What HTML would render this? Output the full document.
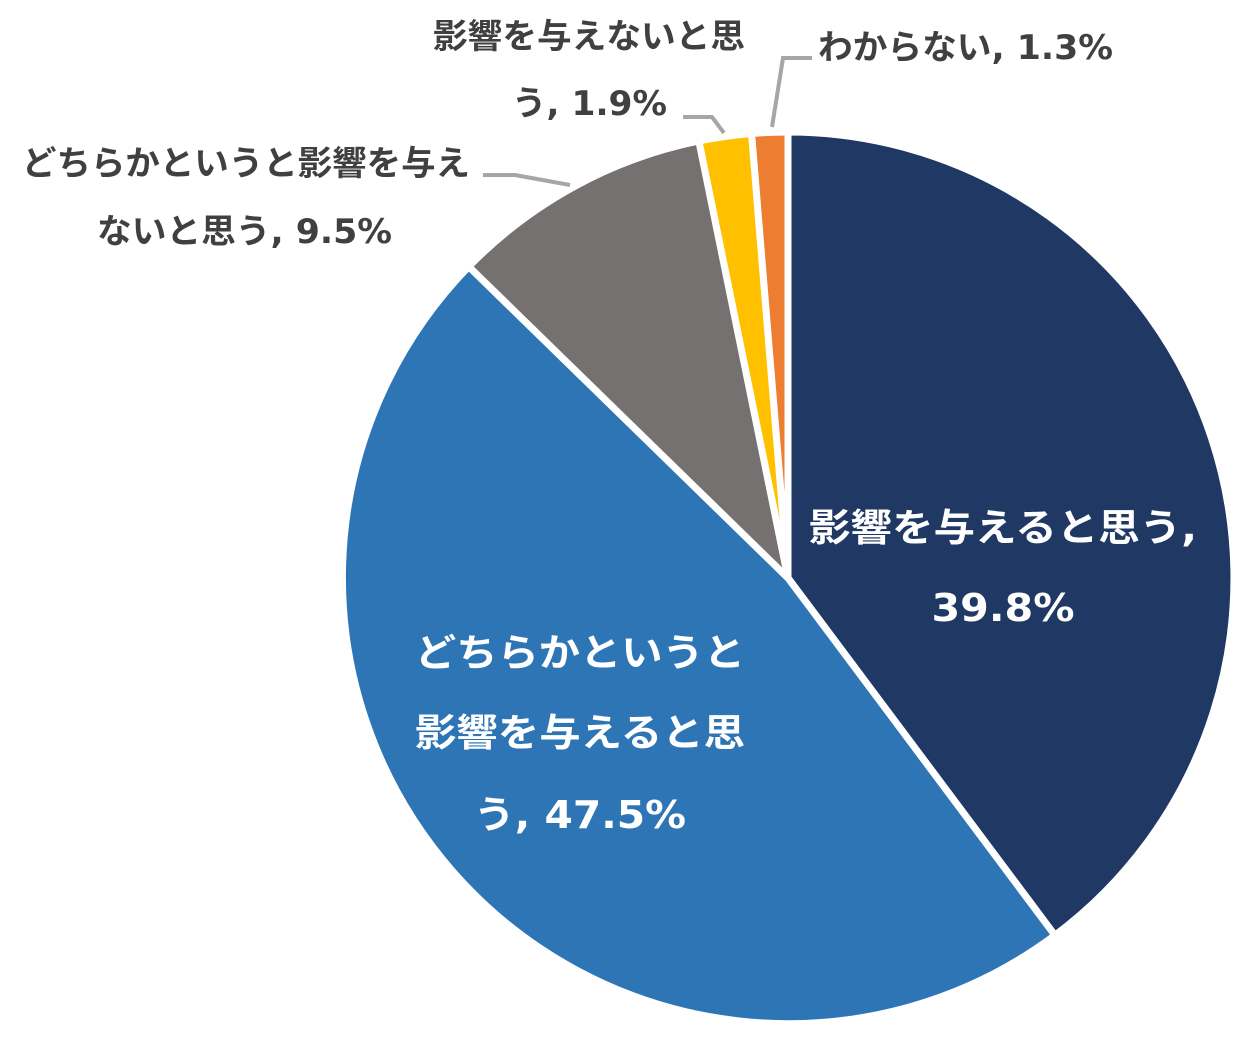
<!DOCTYPE html>
<html><head><meta charset="utf-8"><style>
html,body{margin:0;padding:0;background:#fff;}
svg{display:block;}
text{font-family:"DejaVu Sans","Noto Sans CJK JP",sans-serif;font-weight:bold;}
</style></head><body>
<svg width="1248" height="1042" viewBox="0 0 1248 1042">
<g transform="translate(788,578)">
<g stroke="#fff" stroke-width="7" stroke-linejoin="miter">
<path d="M0,0 L0,-446 A446,446 0 0 1 266.9,357.3 Z" fill="#203864"/>
<path d="M0,0 L266.9,357.3 A446,446 0 0 1 -319.2,-311.4 Z" fill="#2E75B6"/>
<path d="M0,0 L-319.2,-311.4 A446,446 0 0 1 -89.1,-437.0 Z" fill="#767171"/>
<path d="M0,0 L-89.1,-437.0 A446,446 0 0 1 -36.4,-444.5 Z" fill="#FFC000"/>
<path d="M0,0 L-36.4,-444.5 A446,446 0 0 1 0,-446 Z" fill="#ED7D31"/>
</g>
</g>
<g fill="none" stroke="#A6A6A6" stroke-width="4">
<polyline points="483,175 515,175 570,185"/>
<polyline points="683,117 712,117 724,133"/>
<polyline points="812,58 783,58 772,127"/>
</g>
<g fill="#fff" font-size="38" text-anchor="middle">
<text x="1003" y="541" textLength="388" lengthAdjust="spacingAndGlyphs">影響を与えると思う,</text>
<text x="1003" y="621" textLength="143" lengthAdjust="spacingAndGlyphs">39.8%</text>
<text x="580" y="666" textLength="330" lengthAdjust="spacingAndGlyphs">どちらかというと</text>
<text x="580" y="746" textLength="330" lengthAdjust="spacingAndGlyphs">影響を与えると思</text>
<text x="580" y="828" textLength="212" lengthAdjust="spacingAndGlyphs">う, 47.5%</text>
</g>
<g fill="#404040" font-size="34">
<text x="433" y="48" textLength="312" lengthAdjust="spacingAndGlyphs">影響を与えないと思</text>
<text x="512" y="115" textLength="155" lengthAdjust="spacingAndGlyphs">う, 1.9%</text>
<text x="22" y="175" textLength="448" lengthAdjust="spacingAndGlyphs">どちらかというと影響を与え</text>
<text x="97" y="243" textLength="295" lengthAdjust="spacingAndGlyphs">ないと思う, 9.5%</text>
<text x="818" y="59" textLength="295" lengthAdjust="spacingAndGlyphs">わからない, 1.3%</text>
</g>
</svg>
</body></html>
